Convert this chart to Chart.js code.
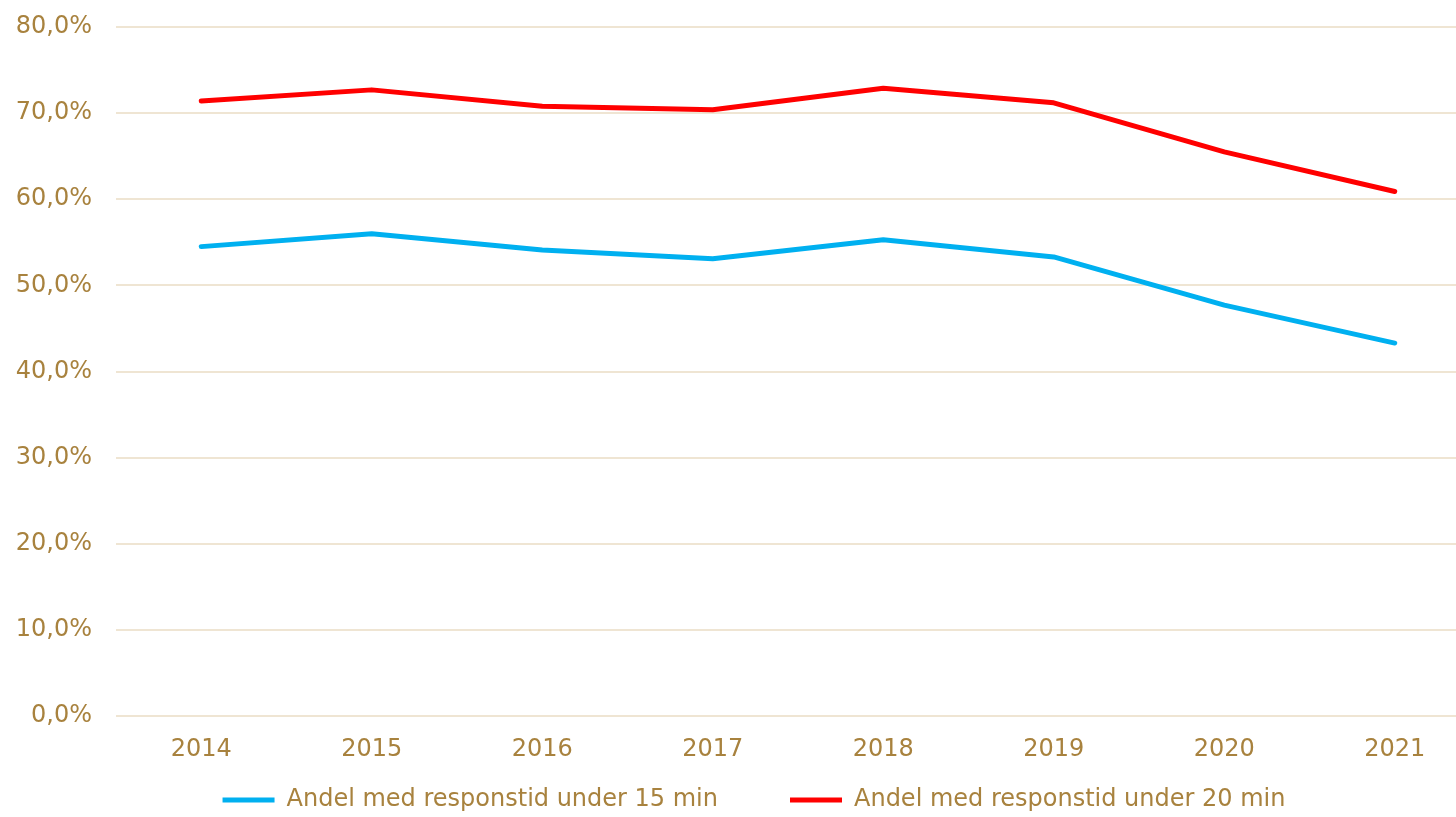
<!DOCTYPE html>
<html>
<head>
<meta charset="utf-8">
<script src="https://cdn.jsdelivr.net/npm/chart.js@4/dist/chart.umd.min.js"></script>
<style>
html,body{margin:0;padding:0;background:#fff;overflow:hidden;}
#c{display:block;}
</style>
</head>
<body>
<canvas id="c" width="1480" height="817" style="width:1480px;height:817px"></canvas>
<script>
const years = ['2014','2015','2016','2017','2018','2019','2020','2021'];
const under15 = [54.5, 56.0, 54.1, 53.1, 55.3, 53.3, 47.7, 43.3];
const under20 = [71.4, 72.7, 70.8, 70.4, 72.9, 71.2, 65.5, 60.9];
const seriesNames = ['Andel med responstid under 15 min', 'Andel med responstid under 20 min'];

const textColor = '#a8823e';
const gridColor = '#efe5d3';
Chart.defaults.font.family = '"DejaVu Sans", Verdana, sans-serif';
Chart.defaults.font.size = 24;
Chart.defaults.color = textColor;

const X_AXIS_H = 40;
const legendShift = {
  id: 'legendShift',
  afterLayout(chart) {
    const lg = chart.legend;
    if (lg) { lg.left += 14; lg.right += 14; lg.top -= X_AXIS_H; lg.height += X_AXIS_H; }
  }
};

new Chart(document.getElementById('c'), {
  type: 'line',
  data: {
    labels: years,
    datasets: [
      {label: seriesNames[0], data: under15, borderColor: '#00b0f0', backgroundColor: '#00b0f0', borderWidth: 5, pointRadius: 0, tension: 0, borderCapStyle: 'round', borderJoinStyle: 'round'},
      {label: seriesNames[1], data: under20, borderColor: '#ff0000', backgroundColor: '#ff0000', borderWidth: 5, pointRadius: 0, tension: 0, borderCapStyle: 'round', borderJoinStyle: 'round'}
    ]
  },
  options: {
    responsive: false,
    animation: false,
    layout: {autoPadding: false, padding: {top: 27, left: 0, right: 0, bottom: 0}},
    plugins: {
      tooltip: {enabled: false},
      legend: {
        position: 'bottom',
        maxHeight: 101 - X_AXIS_H,
        labels: {
          boxWidth: 52,
          boxHeight: 5,
          padding: 72,
          color: textColor,
          font: {size: 24},
          generateLabels: (chart) => chart.data.datasets.map((d, i) => ({
            text: d.label, fillStyle: d.borderColor, strokeStyle: d.borderColor, fontColor: textColor,
            lineWidth: 0, datasetIndex: i, hidden: false
          }))
        }
      }
    },
    scales: {
      x: {
        offset: true,
        grid: {display: false, drawTicks: false},
        border: {display: false},
        ticks: {padding: 19, color: textColor, font: {size: 24}, maxRotation: 0, autoSkip: false},
        afterFit: s => { s.height = X_AXIS_H; }
      },
      y: {
        min: 0, max: 80,
        grid: {color: gridColor, lineWidth: 2, drawTicks: false},
        border: {display: false},
        ticks: {stepSize: 10, padding: 24, color: textColor, font: {size: 24},
          callback: v => v.toFixed(1).replace('.', ',') + '%'},
        afterFit: s => { s.width = 116; s.paddingTop = 0; s.paddingBottom = 0; }
      }
    }
  },
  plugins: [legendShift]
});
</script>
</body>
</html>
